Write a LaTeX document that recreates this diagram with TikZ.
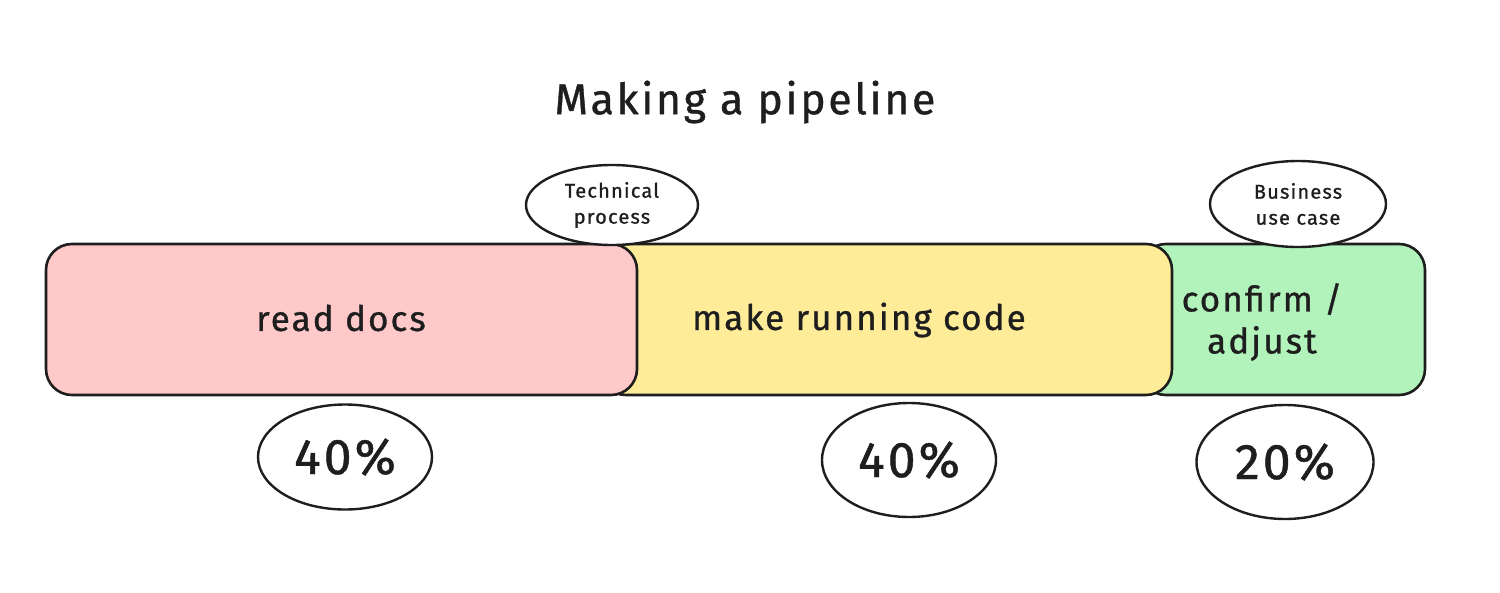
\documentclass[tikz,border=0pt]{standalone}
\usepackage{fontspec}
\setmainfont{Fira Sans}[LetterSpace=6, FakeBold=0.9]
\usetikzlibrary{shapes.geometric}
\definecolor{ink}{HTML}{1E1E1E}
\definecolor{pinkfill}{HTML}{FFC9C9}
\definecolor{yellowfill}{HTML}{FFEC99}
\definecolor{greenfill}{HTML}{B2F2BB}
\tikzset{
  phase/.style={draw=ink, line width=2.6pt, rounded corners=26pt, minimum height=151pt, inner sep=0pt},
  oval/.style={draw=ink, fill=white, line width=2.4pt, ellipse, inner sep=0pt, align=center, text=ink},
  body/.style={text=ink, font=\fontsize{35}{42}\selectfont, align=center, inner sep=0pt},
  tagfont/.style={font=\fontsize{20}{26}\selectfont},
  pctfont/.style={font=\fontsize{50}{54}\selectfont}
}
\begin{document}
\begin{tikzpicture}[x=1pt,y=-1pt]
\useasboundingbox (0,0) rectangle (1500,592);
\fill[white] (0,0) rectangle (1500,592);
% title
\node[text=ink, font=\fontsize{43}{48}\selectfont, inner sep=0pt] (title) at (745,102) {Making a pipeline};
% phase boxes (back to front)
\node[phase, fill=greenfill, minimum width=285pt] (green) at (1282.5,319.5) {};
\node[phase, fill=yellowfill, minimum width=572pt] (yellow) at (886,319.5) {};
\node[phase, fill=pinkfill, minimum width=591pt] (pink) at (341.5,319.5) {};
% texts
\node[body] (readdocs) at (341,318) {read docs};
\node[body] (running) at (859,320) {make running code};
\node[body] (confirm) at (1262,322) {confirm /\\adjust};
% ovals on top
\node[oval, tagfont, minimum width=172pt, minimum height=80pt] (tech) at (612,205) {Technical\\process};
\node[oval, tagfont, minimum width=176pt, minimum height=86pt] (biz) at (1298,204) {Business\\use case};
% percentages
\node[oval, pctfont, minimum width=174pt, minimum height=105pt] (p1) at (345,457) {40\%};
\node[oval, pctfont, minimum width=174pt, minimum height=114pt] (p2) at (909,460) {40\%};
\node[oval, pctfont, minimum width=177pt, minimum height=114pt] (p3) at (1285,462) {20\%};
\end{tikzpicture}
\end{document}
